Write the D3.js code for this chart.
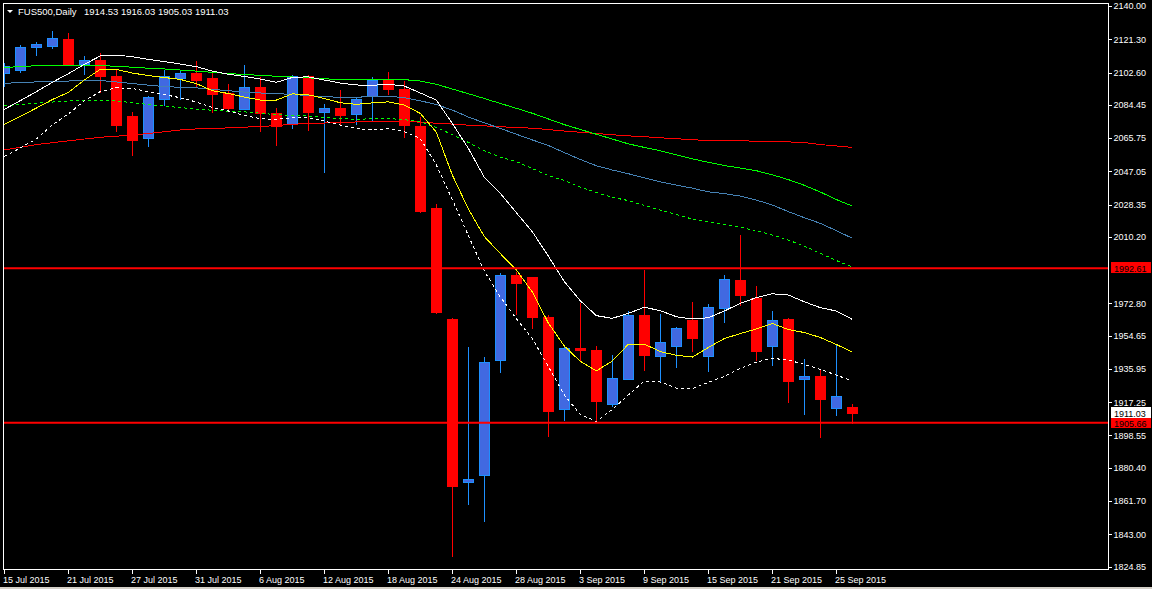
<!DOCTYPE html>
<html>
<head>
<meta charset="utf-8">
<script src="https://cdn.jsdelivr.net/npm/d3@7"></script>
<style>
  html, body { margin: 0; padding: 0; background: #000; overflow: hidden; }
  svg { display: block; }
  text { font-family: "Liberation Sans", Arial, sans-serif; font-size: 9px; fill: #fff; }
</style>
</head>
<body>
<svg id="GraphFUS500" width="1152" height="589"></svg>
<script>
// daily bars, 15 Jul 2015 .. 28 Sep 2015
var dates = ["15 Jul 2015","16 Jul 2015","17 Jul 2015","20 Jul 2015","21 Jul 2015","22 Jul 2015","23 Jul 2015","24 Jul 2015",
  "27 Jul 2015","28 Jul 2015","29 Jul 2015","30 Jul 2015","31 Jul 2015","3 Aug 2015","4 Aug 2015","5 Aug 2015",
  "6 Aug 2015","7 Aug 2015","10 Aug 2015","11 Aug 2015","12 Aug 2015","13 Aug 2015","14 Aug 2015","17 Aug 2015",
  "18 Aug 2015","19 Aug 2015","20 Aug 2015","21 Aug 2015","24 Aug 2015","25 Aug 2015","26 Aug 2015","27 Aug 2015",
  "28 Aug 2015","31 Aug 2015","1 Sep 2015","2 Sep 2015","3 Sep 2015","4 Sep 2015","7 Sep 2015","8 Sep 2015",
  "9 Sep 2015","10 Sep 2015","11 Sep 2015","14 Sep 2015","15 Sep 2015","16 Sep 2015","17 Sep 2015","18 Sep 2015",
  "21 Sep 2015","22 Sep 2015","23 Sep 2015","24 Sep 2015","25 Sep 2015","28 Sep 2015"];

var opens = [2102.0,2103.6,2116.5,2117.1,2120.9,2107.2,2109.6,2100.6,2078.1,2065.4,2087.3,2099.1,2101.8,2099.0,2090.9,2081.7,
  2093.9,2079.7,2073.6,2100.6,2080.0,2082.5,2079.1,2089.2,2098.4,2092.8,2072.5,2025.9,1964.0,1872.0,1875.9,1940.6,
  1988.2,1987.1,1965.1,1913.2,1947.5,1946.4,1916.0,1930.1,1965.7,1943.0,1948.4,1963.4,1943.0,1970.0,1985.9,1975.8,
  1948.4,1964.0,1929.9,1931.9,1913.8,1914.53];
var highs = [2108.0,2118.1,2119.8,2125.9,2124.8,2111.9,2113.6,2104.0,2080.2,2089.4,2104.0,2104.0,2109.1,2102.2,2096.1,2106.8,
  2099.9,2082.5,2101.2,2101.2,2084.9,2092.8,2088.7,2100.2,2103.1,2098.0,2077.4,2028.7,1964.5,1948.4,1942.5,1990.0,
  1990.6,1987.6,1966.1,1949.0,1973.2,1948.8,1943.8,1968.5,1991.6,1966.8,1959.7,1973.6,1972.4,1988.7,2011.2,1982.6,
  1968.5,1964.6,1941.5,1935.3,1949.9,1916.03];
var lows = [2094.5,2102.5,2112.1,2116.0,2106.3,2101.2,2090.9,2069.3,2055.8,2060.9,2083.8,2087.1,2094.6,2079.7,2081.0,2081.5,
  2069.3,2061.3,2070.8,2069.7,2046.3,2073.1,2073.1,2074.9,2090.0,2065.9,2023.8,1967.0,1830.3,1859.4,1850.0,1933.8,
  1966.2,1958.4,1897.8,1906.8,1940.6,1906.8,1914.7,1929.6,1934.9,1927.8,1936.6,1945.6,1934.4,1961.9,1971.3,1940.4,
  1937.7,1916.9,1910.0,1896.9,1909.6,1905.03];
var closes = [2106.0,2116.8,2118.6,2121.8,2106.8,2109.6,2100.6,2072.7,2064.3,2088.3,2100.6,2102.3,2098.0,2090.1,2082.1,2094.3,
  2079.3,2072.1,2100.6,2080.0,2082.5,2078.7,2087.5,2098.0,2092.8,2072.7,2024.7,1967.5,1869.7,1874.0,1939.6,1988.7,
  1983.8,1964.7,1911.9,1947.7,1946.2,1917.5,1930.6,1965.7,1943.4,1950.9,1958.9,1952.9,1970.6,1986.5,1977.1,1945.6,
  1963.3,1928.7,1931.4,1918.6,1920.7,1911.03];

// moving averages, one value per bar
var maWhite = [2081.9,2086.8,2091.8,2097.1,2101.9,2107.2,2111.9,2112.4,2111.5,2110.0,2108.7,2107.4,2105.9,2103.4,2101.6,2100.4,
  2098.9,2097.1,2099.8,2100.2,2098.4,2096.7,2095.6,2095.4,2096.0,2095.0,2091.1,2087.1,2074.0,2060.0,2043.7,2034.7,
  2023.8,2013.1,1999.4,1985.1,1974.3,1965.9,1964.4,1967.2,1970.6,1968.7,1965.3,1964.0,1964.7,1968.5,1972.8,1976.0,
  1978.2,1977.5,1973.7,1970.4,1968.5,1963.8];
var maYellow = [2073.5,2077.9,2082.6,2087.4,2091.4,2098.4,2104.4,2104.3,2102.3,2100.9,2099.8,2098.7,2096.4,2092.4,2090.8,2088.8,
  2087.1,2087.1,2090.6,2090.1,2088.0,2085.6,2084.7,2085.5,2086.1,2084.3,2079.6,2069.1,2045.0,2025.9,2010.4,2000.8,
  1991.6,1979.2,1961.8,1948.8,1940.2,1934.8,1940.4,1949.8,1949.9,1945.7,1943.6,1942.6,1948.0,1953.0,1955.8,1958.4,
  1961.5,1958.1,1956.4,1953.6,1949.7,1945.4];
var maWhiteDash = [2055.4,2060.2,2065.2,2073.1,2079.3,2086.6,2091.9,2094.0,2093.6,2091.9,2090.2,2088.4,2086.0,2083.0,2081.0,2078.5,
  2076.6,2076.3,2077.2,2077.2,2075.3,2073.0,2071.1,2070.3,2071.1,2069.4,2065.5,2050.6,2031.2,2011.0,1991.0,1976.4,
  1964.3,1953.0,1937.3,1921.3,1910.3,1906.4,1913.1,1921.3,1929.1,1928.6,1925.2,1924.8,1928.4,1931.7,1936.2,1939.8,
  1941.9,1940.9,1938.5,1935.7,1932.5,1929.1];
var maGreen = [2105.3,2106.0,2106.4,2106.7,2106.8,2106.7,2106.5,2106.1,2105.6,2105.0,2104.6,2104.0,2103.4,2102.7,2102.0,2101.5,
  2101.0,2100.5,2100.1,2099.6,2099.1,2098.6,2098.5,2098.7,2098.8,2098.6,2097.8,2096.0,2093.3,2090.7,2088.0,2085.2,
  2082.5,2079.7,2076.5,2073.3,2070.6,2067.9,2065.2,2062.5,2060.5,2058.6,2056.3,2054.1,2052.1,2050.3,2048.9,2047.4,
  2045.1,2042.4,2039.2,2035.4,2031.2,2027.5];
var maBlue = [2096.5,2097.0,2097.3,2097.5,2097.8,2098.3,2098.1,2097.3,2096.4,2095.5,2094.7,2094.3,2094.0,2093.1,2092.4,2091.6,
  2091.1,2090.7,2090.3,2089.6,2089.0,2088.7,2088.7,2089.1,2089.2,2088.5,2086.7,2084.6,2081.5,2077.6,2074.3,2071.2,
  2067.9,2064.7,2061.6,2057.6,2053.7,2050.2,2047.8,2045.7,2043.4,2041.1,2039.3,2037.6,2035.5,2034.5,2033.1,2030.9,
  2028.1,2024.4,2021.0,2017.8,2013.7,2009.4];
var maGreenDash = [2083.9,2084.7,2085.4,2086.0,2086.6,2086.9,2086.9,2086.6,2085.6,2084.6,2083.7,2082.9,2082.0,2081.4,2080.8,2080.5,
  2079.7,2078.9,2078.4,2078.1,2077.3,2076.7,2076.3,2076.6,2076.7,2076.1,2074.9,2071.7,2067.7,2063.3,2058.7,2055.1,
  2052.5,2048.6,2044.7,2041.9,2038.2,2035.1,2032.4,2030.6,2027.9,2025.3,2022.7,2020.2,2018.5,2017.1,2015.6,2013.6,
  2011.2,2008.4,2005.0,2000.9,1996.9,1993.2];
var maRed = [2059.1,2060.5,2062.1,2063.1,2064.2,2065.2,2066.2,2066.8,2067.4,2068.3,2069.3,2070.3,2070.9,2071.0,2071.5,2071.9,
  2072.2,2072.8,2073.5,2073.9,2074.2,2074.5,2074.8,2075.1,2075.2,2075.0,2074.7,2074.1,2073.6,2073.0,2072.6,2072.1,
  2071.7,2071.3,2070.5,2069.7,2069.0,2068.3,2067.6,2067.0,2066.5,2065.9,2065.4,2064.8,2064.4,2064.3,2064.2,2064.0,
  2063.8,2063.6,2063.2,2062.1,2061.3,2060.5];

// price scale labels on the right
var priceTicks = [2140.00,2121.30,2102.60,2084.45,2065.75,2047.05,2028.35,2010.20,1972.80,1954.65,1935.95,1917.25,
  1898.55,1880.40,1861.70,1843.00,1824.85];
var levels = [1992.61, 1905.66];   // horizontal lines
var lastPrice = 1911.03;
var symbolName = "FUS500,Daily";
var lastOhlc = "1914.53 1916.03 1905.03 1911.03";

var svg = d3.select("svg#GraphFUS500");
// plot box (don't call these top/left: window.top is read-only)
var pLeft = 3, pRight = 1109, pTop = 3, pBottom = 570;

svg.append("rect").attr("width", 1152).attr("height", 589).attr("fill", "#000");
svg.append("rect").attr("x", 0).attr("y", 587).attr("width", 1152).attr("height", 2).attr("fill", "#d4d0c8");

// X scale uses the bar number, 16px per bar
var xScale = d3.scaleLinear()
  .domain([0, dates.length - 1])
  .range([4.3, 4.3 + 16 * (dates.length - 1)]);

var yScale = d3.scaleLinear()
  .domain([1824.85, 2140])
  .range([566.5, 6]);

svg.append("clipPath").attr("id", "plotClip")
  .append("rect").attr("x", pLeft).attr("y", pTop).attr("width", pRight - pLeft).attr("height", pBottom - pTop);

var plot = svg.append("g").attr("clip-path", "url(#plotClip)");

//Builds the candles
var bars = dates.map(function(d, i) {
  return {i: i, o: opens[i], h: highs[i], l: lows[i], c: closes[i]};
});

var candle = plot.selectAll("g.candle")
  .data(bars)
  .enter().append("g")
  .attr("class", "candle")
  .attr("shape-rendering", "crispEdges");

candle.append("line")
  .attr("x1", function(d) { return Math.round(xScale(d.i)) + 0.5; })
  .attr("x2", function(d) { return Math.round(xScale(d.i)) + 0.5; })
  .attr("y1", function(d) { return yScale(d.h); })
  .attr("y2", function(d) { return yScale(d.l); })
  .attr("stroke", function(d) { return d.c >= d.o ? "#1e90ff" : "#ff0000"; })
  .attr("stroke-width", 1);

candle.append("rect")
  .attr("x", function(d) { return Math.round(xScale(d.i)) - 5 + 0.5; })
  .attr("width", 10)
  .attr("y", function(d) { return yScale(Math.max(d.o, d.c)); })
  .attr("height", function(d) { return Math.max(1, Math.abs(yScale(d.o) - yScale(d.c))); })
  .attr("fill", function(d) { return d.c >= d.o ? "#4169e1" : "#ff0000"; })
  .attr("stroke", function(d) { return d.c >= d.o ? "#1e90ff" : "#ff0000"; })
  .attr("stroke-width", 1);

// D3's line generator for the averages
var line = d3.line()
  .x(function(d, i) { return xScale(i); })
  .y(function(d) { return yScale(d); });

var averages = [
  {values: maRed, color: "#ff0000", dash: null},
  {values: maGreenDash, color: "#00ff00", dash: "3,3"},
  {values: maBlue, color: "#4682b4", dash: null},
  {values: maGreen, color: "#00ff00", dash: null},
  {values: maWhiteDash, color: "#ffffff", dash: "3,3"},
  {values: maWhite, color: "#ffffff", dash: null},
  {values: maYellow, color: "#ffff00", dash: null}
];

averages.forEach(function(ma) {
  plot.append("path")
    .datum(ma.values)
    .attr("fill", "none")
    .attr("stroke", ma.color)
    .attr("stroke-width", 1)
    .attr("stroke-dasharray", ma.dash)
    .attr("shape-rendering", "crispEdges")
    .attr("d", line);
});

// horizontal levels
levels.forEach(function(v) {
  plot.append("line")
    .attr("x1", pLeft).attr("x2", pRight)
    .attr("y1", yScale(v)).attr("y2", yScale(v))
    .attr("stroke", "#ff0000")
    .attr("stroke-width", 2);
});

// frame
svg.append("rect")
  .attr("x", pLeft + 0.5).attr("y", pTop + 0.5)
  .attr("width", pRight - pLeft - 1).attr("height", pBottom - pTop - 1)
  .attr("fill", "none").attr("stroke", "#fff").attr("stroke-width", 1)
  .attr("shape-rendering", "crispEdges");

// price axis on the right
var yAxis = svg.append("g")
  .attr("transform", "translate(" + (pRight - 0.5) + ",0)")
  .call(d3.axisRight(yScale).tickValues(priceTicks).tickSize(3).tickPadding(2)
    .tickFormat(function(d) { return d.toFixed(2); }));
yAxis.select(".domain").remove();
yAxis.selectAll("line").attr("stroke", "#fff").attr("shape-rendering", "crispEdges");
yAxis.selectAll("text").attr("fill", "#fff").attr("font-size", 9)
  .attr("font-family", "Liberation Sans, Arial, sans-serif");

// time axis at the bottom, a label every 4 bars
var tickIdx = d3.range(0, dates.length - 1, 4);
var xAxis = svg.append("g")
  .attr("transform", "translate(0," + (pBottom - 0.5) + ")")
  .call(d3.axisBottom(xScale).tickValues(tickIdx).tickSize(4).tickPadding(3)
    .tickFormat(function(i) { return dates[i]; }));
xAxis.select(".domain").remove();
xAxis.selectAll("line").attr("stroke", "#fff").attr("shape-rendering", "crispEdges");
xAxis.selectAll(".tick").attr("transform", function(i) {
  return "translate(" + (Math.round(xScale(i)) + 0.5) + ",0)";
});
xAxis.selectAll("text").attr("fill", "#fff").attr("font-size", 9)
  .attr("font-family", "Liberation Sans, Arial, sans-serif")
  .attr("text-anchor", "start").attr("dx", -1.5);

// labels for the levels and the last price
function priceLabel(v, bg, fg) {
  var yv = Math.round(yScale(v));
  svg.append("rect")
    .attr("x", pRight + 2).attr("y", yv - 6)
    .attr("width", 40).attr("height", 11)
    .attr("fill", bg);
  svg.append("text")
    .attr("x", pRight + 5).attr("y", yv + 3.5)
    .style("fill", fg)
    .text(v.toFixed(2));
}
levels.forEach(function(v) { priceLabel(v, "#ff0000", "#000"); });
priceLabel(lastPrice, "#ffffff", "#000");

// title
svg.append("path").attr("d", "M7,10 L13,10 L10,13 Z").attr("fill", "#fff");
svg.append("text").attr("x", 18).attr("y", 15).style("font-size", "9.5px").text(symbolName);
svg.append("text").attr("x", 84).attr("y", 15).style("font-size", "9.5px").text(lastOhlc);
</script>
</body>
</html>
